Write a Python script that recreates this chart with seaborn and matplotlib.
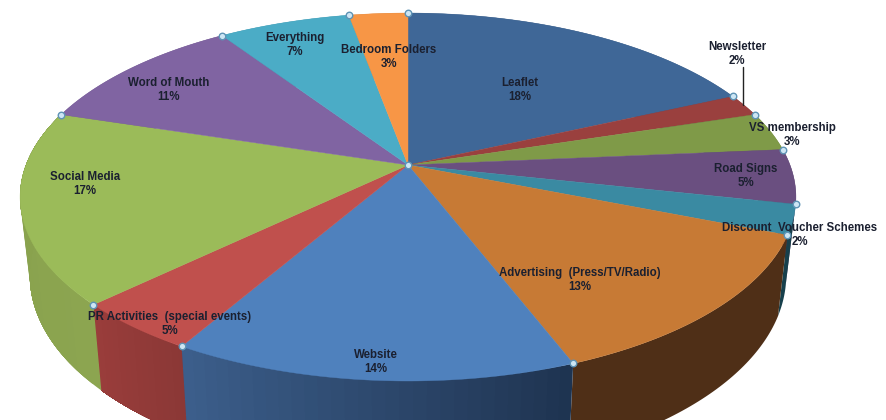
import numpy as np
import pandas as pd
import matplotlib
matplotlib.use("Agg")
import matplotlib.pyplot as plt
import matplotlib.colors as mcolors
import seaborn as sns

categories = ["Leaflet", "Newsletter", "VS membership", "Road Signs", "Discount  Voucher Schemes",
              "Advertising  (Press/TV/Radio)", "Website", "PR Activities  (special events)",
              "Social Media", "Word of Mouth", "Everything", "Bedroom Folders"]
shown_pct = [18, 2, 3, 5, 2, 13, 14, 5, 17, 11, 7, 3]
values = [18.25, 1.95, 3.4, 4.8, 2.6, 13.1, 14.3, 4.5, 16.9, 10.8, 6.5, 2.9]

top_colors = ["#3F6797", "#9A403E", "#7F9A48", "#6A4F80", "#3A8AA2", "#C77A35",
              "#4F81BD", "#C0504D", "#9BBB59", "#8064A2", "#4BACC6", "#F79646"]
wall_start = ["#2F4D72", "#743030", "#5F7436", "#4F3B60", "#17404C", "#4F2F17",
              "#1E3350", "#8B3836", "#8CA550", "#604B7A", "#388195", "#B97034"]
wall_end = ["#2F4D72", "#743030", "#5F7436", "#4F3B60", "#17404C", "#4F2F17",
            "#3C5F8C", "#9A3D3B", "#87A04C", "#604B7A", "#388195", "#B97034"]

label_xy = [(520, 90), (737, 54), (792, 135), (746, 176), (800, 235), (580, 280),
            (376, 362), (170, 324), (85, 184), (169, 90), (295, 45), (389, 57)]

# pie projection, tuned by eye
cx, cy = 408, 165
rx, ry, persp = 382, 178.4, -0.174


def top_rim(theta):
    x = np.sin(theta)
    y = -np.cos(theta)
    d = 1 + persp * y
    return cx + rx * x / d, cy + ry * y / d


def bottom_rim(theta):
    u, v = top_rim(theta)
    return cx + 0.975 * (u - cx), cy + 76 + 1.07 * (v - cy)


sns.set_theme(style="white")
plt.rcParams["font.family"] = ["Liberation Sans", "DejaVu Sans"]

df = pd.DataFrame({"category": categories, "value": values, "pct": shown_pct})
df["end"] = df["value"].cumsum() / df["value"].sum() * 2 * np.pi
df["start"] = df["end"].shift(fill_value=0)

fig, ax = plt.subplots(figsize=(8.86, 4.2), dpi=100)
fig.subplots_adjust(left=0, right=1, top=1, bottom=0)
ax.set_xlim(0, 886)
ax.set_ylim(420, 0)
ax.axis("off")

# side wall: each step paints from its angle to the slice end, so no seams show
for i, row in df.iterrows():
    c0 = np.array(mcolors.to_rgb(wall_start[i]))
    c1 = np.array(mcolors.to_rgb(wall_end[i]))
    steps = 30 if wall_start[i] != wall_end[i] else 1
    edges = np.linspace(row["start"], row["end"], steps + 1)
    for k in range(steps):
        t = np.linspace(edges[k], row["end"], 60)
        ux, uy = top_rim(t)
        bx, by = bottom_rim(t)
        col = c0 + (c1 - c0) * (k + 0.5) / steps
        ax.fill(np.r_[ux, bx[::-1]], np.r_[uy, by[::-1]], color=col, lw=0, zorder=1)

# top face
for i, row in df.iterrows():
    t = np.linspace(row["start"], row["end"], 80)
    ux, uy = top_rim(t)
    ax.fill(np.r_[cx, ux], np.r_[cy, uy], color=top_colors[i], lw=0.3, zorder=2)

# selection handles on the slice corners
hx, hy = top_rim(df["start"].to_numpy())
handles = pd.DataFrame({"x": np.r_[hx, cx], "y": np.r_[hy, cy]})
sns.scatterplot(data=handles, x="x", y="y", ax=ax, s=22, color="#CDE6F4", edgecolor="#5E93B5",
                linewidth=1.0, zorder=5, clip_on=False)
ax.set_xlabel("")
ax.set_ylabel("")

# leader line for Newsletter
ax.plot([743.5, 743.5], [67, 105], color="#222222", lw=1, zorder=4)

for i, row in df.iterrows():
    ax.text(label_xy[i][0], label_xy[i][1], f"{row['category']}\n{row['pct']}%", ha="center", va="center",
            fontsize=8.3, fontweight="bold", color="#1B2030", linespacing=1.15, zorder=6)

fig.savefig("out.png", dpi=100)
